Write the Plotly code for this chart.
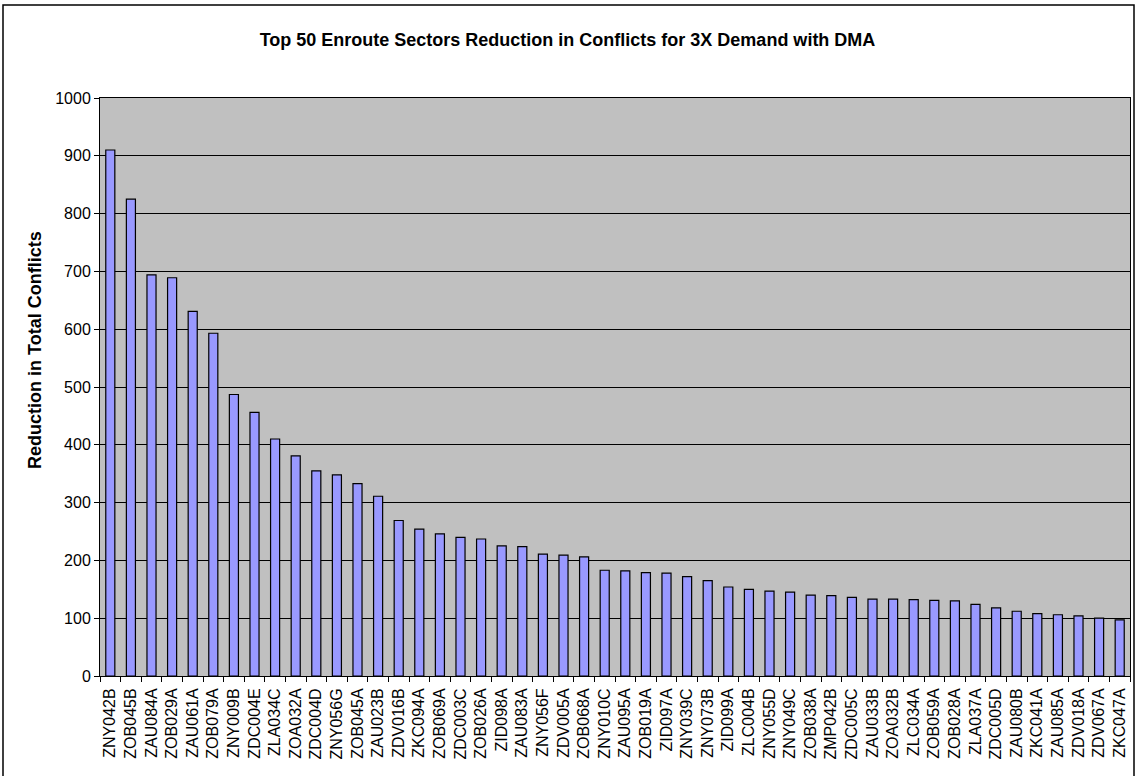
import plotly.graph_objects as go

sectors = ["ZNY042B","ZOB045B","ZAU084A","ZOB029A","ZAU061A","ZOB079A","ZNY009B","ZDC004E","ZLA034C","ZOA032A",
           "ZDC004D","ZNY056G","ZOB045A","ZAU023B","ZDV016B","ZKC094A","ZOB069A","ZDC003C","ZOB026A","ZID098A",
           "ZAU083A","ZNY056F","ZDV005A","ZOB068A","ZNY010C","ZAU095A","ZOB019A","ZID097A","ZNY039C","ZNY073B",
           "ZID099A","ZLC004B","ZNY055D","ZNY049C","ZOB038A","ZMP042B","ZDC005C","ZAU033B","ZOA032B","ZLC034A",
           "ZOB059A","ZOB028A","ZLA037A","ZDC005D","ZAU080B","ZKC041A","ZAU085A","ZDV018A","ZDV067A","ZKC047A"]
reduction = [910, 825, 694, 689, 631, 593, 487, 456, 410, 381,
             355, 348, 333, 311, 269, 254, 246, 240, 237, 225,
             224, 211, 209, 206, 183, 182, 179, 178, 172, 165,
             154, 150, 147, 145, 140, 139, 136, 133, 133, 132,
             131, 130, 124, 118, 112, 108, 106, 104, 100, 97]
y_ticks = [0, 100, 200, 300, 400, 500, 600, 700, 800, 900, 1000]

fig = go.Figure(go.Bar(
    x=sectors, y=reduction,
    marker=dict(color="#9999FF", line=dict(color="black", width=1.2)),
))

font = "Liberation Sans, Arial, sans-serif"
W, H = 1135, 776
L, R, T, B = 100, 5, 98, 100
pw, ph = W - L - R, H - T - B

fig.update_layout(
    width=W, height=H,
    margin=dict(l=L, r=R, t=T, b=B),
    paper_bgcolor="white", plot_bgcolor="#C0C0C0",
    bargap=0.56,
    showlegend=False,
    font=dict(family=font, size=16, color="black"),
    title=dict(text="<b>Top 50 Enroute Sectors Reduction in Conflicts for 3X Demand with DMA</b>",
               x=0.5, xanchor="center", y=1 - 40 / H, yanchor="middle",
               font=dict(family=font, size=18, color="black")),
    xaxis=dict(type="category", tickangle=-90, tickson="boundaries", ticks="outside", ticklen=5,
               tickcolor="black", showline=True, linecolor="black", linewidth=1, mirror=True,
               showgrid=False, tickfont=dict(size=16), ticklabelstandoff=5),
    yaxis=dict(range=[0, 1000], tickvals=y_ticks, ticks="outside", ticklen=5, tickcolor="black",
               showline=True, linecolor="black", linewidth=1, mirror=True,
               showgrid=True, gridcolor="black", gridwidth=1, zeroline=False,
               tickfont=dict(size=16)),
    annotations=[dict(text="<b>Reduction in Total Conflicts</b>", textangle=-90,
                      xref="paper", yref="paper", x=(35 - L) / pw, y=(H - B - 350) / ph,
                      xanchor="center", yanchor="middle", showarrow=False,
                      font=dict(family=font, size=18, color="black"))],
    shapes=[dict(type="rect", xref="paper", yref="paper",
                 x0=(3 - L) / pw, x1=(1134 - L) / pw, y0=-0.5, y1=(H - B - 5) / ph,
                 line=dict(color="black", width=1.5), fillcolor="rgba(0,0,0,0)", layer="below")],
)

fig.write_html("out.html", config={"displayModeBar": False},
               post_script="document.body.style.margin='0';document.body.style.overflow='hidden';")
